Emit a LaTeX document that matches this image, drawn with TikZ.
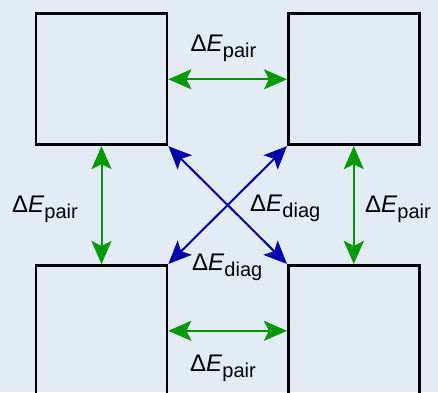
\documentclass[tikz,border=0pt]{standalone}
\usepackage{fontspec}
\setmainfont{Liberation Sans}
\usetikzlibrary{arrows.meta}
\definecolor{bgblue}{RGB}{227,235,245}
\definecolor{pairgreen}{RGB}{0,153,0}
\definecolor{diagblue}{RGB}{0,0,170}
\newcommand{\dE}[1]{\fontsize{24}{24}\selectfont\char"0394\textit{E}\raisebox{-6pt}{\fontsize{20}{20}\selectfont #1}}
\tikzset{
  site/.style={draw=black,line width=2.7pt,minimum size=131pt,inner sep=0pt},
  elabel/.style={anchor=base west,inner sep=0pt},
  pair/.style={pairgreen,line width=2pt,{Stealth[length=23pt,width=20pt,inset=5pt]}-{Stealth[length=23pt,width=20pt,inset=5pt]}},
  diag/.style={diagblue,line width=2pt,{Stealth[length=23pt,width=20pt,inset=5pt]}-{Stealth[length=23pt,width=20pt,inset=5pt]}}
}
\begin{document}
\begin{tikzpicture}[x=1pt,y=-1pt]
  \fill[bgblue] (0,0) rectangle (438,392);
  \useasboundingbox (0,0) rectangle (438,392);
  % the four sites
  \node[site] (tl) at (101.5,79.3) {};
  \node[site] (tr) at (353.8,79.3) {};
  \node[site] (bl) at (101.5,330.8) {};
  \node[site] (br) at (353.8,330.8) {};
  % pair couplings
  \draw[pair] (tl.east) -- (tr.west);
  \draw[pair] (bl.east) -- (br.west);
  \draw[pair] (tl.south) -- (bl.north);
  \draw[pair] (tr.south) -- (br.north);
  % diagonal couplings
  \draw[diag] (tl.south east) -- (br.north west);
  \draw[diag] (tr.south west) -- (bl.north east);
  % labels
  \node[elabel] (ptop) at (190.5,51.5) {\dE{pair}};
  \node[elabel] (pbot) at (190,371.5) {\dE{pair}};
  \node[elabel] (pleft) at (12,212.5) {\dE{pair}};
  \node[elabel] (pright) at (365,212) {\dE{pair}};
  \node[elabel] (dright) at (250,211) {\dE{diag}};
  \node[elabel] (dlow) at (192,270) {\dE{diag}};
\end{tikzpicture}
\end{document}
